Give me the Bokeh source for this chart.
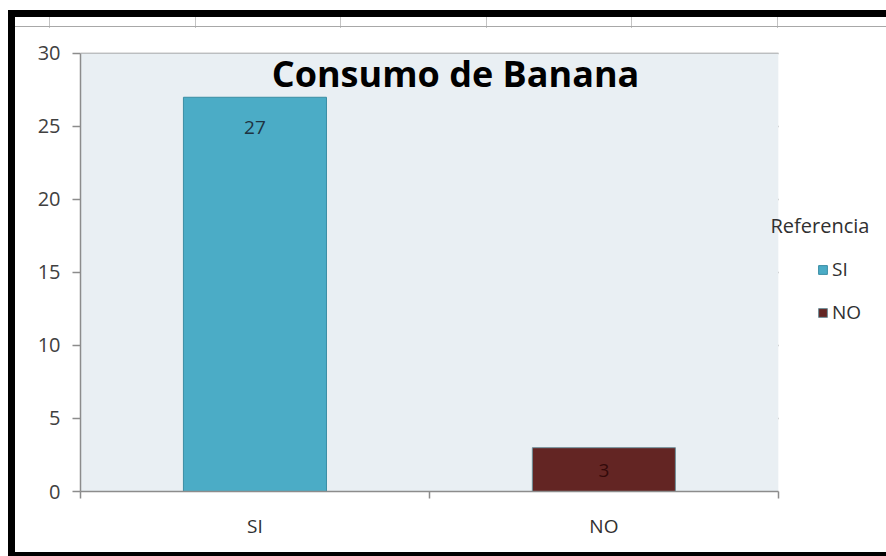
from bokeh.plotting import figure
from bokeh.layouts import column
from bokeh.models import (ColumnDataSource, Legend, LegendItem, Label, SingleIntervalTicker,
                          FixedTicker, LinearAxis, Range1d, BoxAnnotation)
from bokeh.core.properties import value
from bokeh.embed import file_html
from bokeh.resources import INLINE

categories = ["SI", "NO"]
counts = [27, 3]
colors = ["#4BACC6", "#632523"]
outline = ["#3B8EA5", "#6E8F99"]
label_colors = ["#1E3342", "#330A0A"]
label_offsets = [30, 23]
title_text = "Consumo de Banana"
legend_title = "Referencia"
y_max = 30

FONT = "Open Sans"

ncat = len(categories)
centers = [i + 0.5 for i in range(ncat)]
bounds_x = list(range(ncat + 1))

src = ColumnDataSource(dict(x=centers, cat=categories, val=counts, color=colors, line=outline,
                            lab=[str(v) for v in counts], lcol=label_colors, off=label_offsets))

# frame: 80..886 x 28..491 (px); plot area drawn 0..ncat x 0..30
p = figure(width=871, height=524, x_range=Range1d(0, 2.31), y_range=Range1d(0, 31.71),
           output_backend="svg", toolbar_location=None, margin=(11, 0, 0, 0),
           min_border_left=65, min_border_right=0, min_border_top=0, min_border_bottom=61)
p.outline_line_color = None
p.background_fill_color = "white"
p.border_fill_color = "white"

p.add_layout(BoxAnnotation(left=0, right=ncat, bottom=0, top=y_max, fill_color="#E9EFF3",
                           fill_alpha=1, line_color=None, level="underlay"))

r = p.vbar(x="x", top="val", width=0.41, source=src, fill_color="color", line_color="line", line_width=1)
p.text(x="x", y="val", text="lab", source=src, text_align="center", text_baseline="middle",
       y_offset="off", text_color="lcol", text_font=value(FONT), text_font_size="19px")

p.yaxis.ticker = SingleIntervalTicker(interval=5)
p.ygrid.ticker = SingleIntervalTicker(interval=5)
p.ygrid.cross_bounds = (0, ncat)
p.xgrid.grid_line_color = None
p.ygrid.grid_line_color = "#8C8C8C"
p.ygrid.grid_line_width = 1.5

# x axis: tick marks at category boundaries, no labels
xa = p.xaxis[0]
xa.ticker = FixedTicker(ticks=bounds_x)
xa.bounds = (0, ncat)
xa.major_label_overrides = {b: "" for b in bounds_x}
xa.major_label_text_font_size = "2px"
xa.major_label_standoff = 0
xa.major_tick_out = 7
xa.major_tick_in = 0

# second axis carrying the category names at the centres
xl = LinearAxis(ticker=FixedTicker(ticks=centers),
                major_label_overrides={c: n for c, n in zip(centers, categories)},
                axis_line_color=None, major_tick_line_color=None, minor_tick_line_color=None,
                major_tick_out=0, major_tick_in=0,
                major_label_standoff=14, major_label_text_font=FONT,
                major_label_text_font_size="19px", major_label_text_color="#303030")
p.add_layout(xl, "below")

for ax in (xa, p.yaxis[0]):
    ax.axis_line_color = "#8C8C8C"
    ax.axis_line_width = 1.5
    ax.major_tick_line_color = "#8C8C8C"
    ax.major_tick_line_width = 1.5
    ax.minor_tick_line_color = None
ya = p.yaxis[0]
ya.bounds = (0, y_max)
ya.major_label_text_font = FONT
ya.major_label_text_font_size = "20px"
ya.major_label_text_color = "#404040"
ya.major_tick_out = 8
ya.major_tick_in = 0
ya.major_label_standoff = 12

p.add_layout(Label(x=375, y=418, x_units="screen", y_units="screen", text=title_text,
                   text_align="center", text_baseline="alphabetic", text_font=FONT,
                   text_font_size="36px", text_font_style="bold", text_color="black"))
p.add_layout(Label(x=690, y=266, x_units="screen", y_units="screen", text=legend_title,
                   text_align="left", text_baseline="middle", text_font=FONT,
                   text_font_size="20px", text_color="#303030"))

legend = Legend(items=[LegendItem(label=c, renderers=[r], index=i) for i, c in enumerate(categories)],
                location=(737, 166), padding=0, margin=0, spacing=17,
                glyph_width=11, glyph_height=11, label_standoff=4, label_height=20,
                border_line_color=None, background_fill_alpha=0,
                label_text_font=FONT, label_text_font_size="19px", label_text_color="#303030")
p.add_layout(legend)

# surrounding screenshot frame: thick black border and the spreadsheet header strip
strip_bg = ("linear-gradient(to bottom, transparent 9px, #A8A8A8 9px, #A8A8A8 10px, transparent 10px) "
            "0 0 / 100% 11px no-repeat, "
            "repeating-linear-gradient(to right, transparent 0px, transparent 34px, #C4C4C4 34px, "
            "#C4C4C4 35px, transparent 35px, transparent 145.6px) 0 0 / 100% 11px no-repeat, white")
layout = column(p, margin=(10, 0, 0, 8),
                styles={"border-left": "7px solid black", "border-top": "7px solid black",
                        "border-bottom": "4px solid black", "background": strip_bg})

open("out.html", "w").write(file_html(layout, INLINE))
